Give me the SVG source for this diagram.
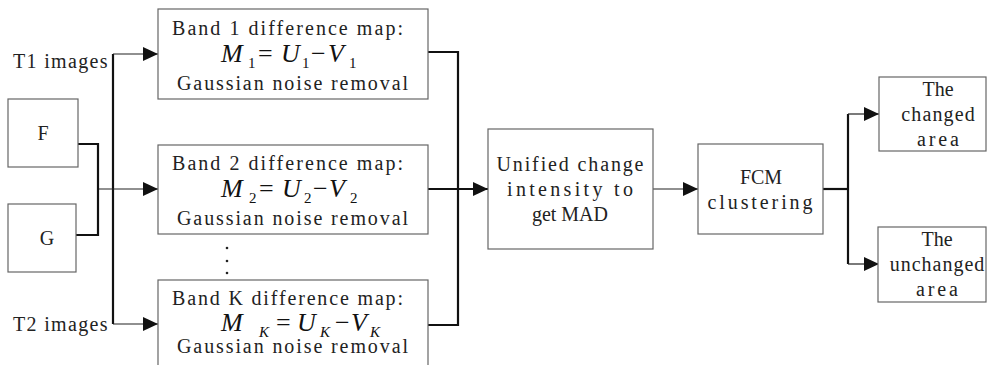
<svg xmlns="http://www.w3.org/2000/svg" width="987" height="365" viewBox="0 0 987 365">
<style>
.box{fill:#fff;stroke:#666;stroke-width:1.2}
.t{font-family:"Liberation Serif","Times New Roman",serif;font-size:20px;fill:#222}
.c{text-anchor:middle}
.f{font-family:"Liberation Serif","Times New Roman",serif;font-size:26px;fill:#111}
.i{font-style:italic}
.s{font-size:15px}
.thin{fill:none;stroke:#222;stroke-width:1.2}
.thick{fill:none;stroke:#111;stroke-width:2.2}
</style>
<defs>
<marker id="arr" markerUnits="userSpaceOnUse" markerWidth="15" markerHeight="14" refX="15" refY="7" orient="auto">
<path d="M0,0 L15,7 L0,14 z" fill="#111"/>
</marker>
</defs>
<rect width="987" height="365" fill="#fff"/>
<g id="connectors">
<path class="thick" d="M113,54 V324"/>
<path class="thin" d="M113,54 H158" marker-end="url(#arr)"/>
<path class="thin" d="M98,189 H158" marker-end="url(#arr)"/>
<path class="thin" d="M113,324 H158" marker-end="url(#arr)"/>
<path class="thick" d="M78,144 H98 V235 H76"/>
<path class="thick" d="M428,52 H458 V325 H428"/>
<path class="thick" d="M428,189 H488" marker-end="url(#arr)"/>
<path class="thin" d="M653,189 H698" marker-end="url(#arr)"/>
<path class="thick" d="M823,189 H848"/>
<path class="thick" d="M848,114 V264"/>
<path class="thin" d="M848,114 H879" marker-end="url(#arr)"/>
<path class="thin" d="M848,264 H879" marker-end="url(#arr)"/>
</g>
<g id="t1label"><text class="t" x="13" y="68" textLength="94.5" lengthAdjust="spacing">T1 images</text></g>
<g id="t2label"><text class="t" x="13" y="331" textLength="94.5" lengthAdjust="spacing">T2 images</text></g>
<g id="F">
<rect class="box" x="8" y="99" width="70" height="68"/>
<text class="t c" x="43" y="140">F</text>
</g>
<g id="G">
<rect class="box" x="8" y="204" width="68" height="68"/>
<text class="t c" x="47" y="245">G</text>
</g>
<g id="band1">
<rect class="box" x="158" y="9" width="270" height="90"/>
<text class="t" x="172" y="35" textLength="231" lengthAdjust="spacing">Band 1 difference map:</text>
<text class="f" y="62"><tspan class="i" x="221">M</tspan><tspan class="s" x="248" y="68">1</tspan><tspan x="258" y="62">=</tspan><tspan class="i" x="281">U</tspan><tspan class="s" x="302" y="68">1</tspan><tspan x="311" y="62">−</tspan><tspan class="i" x="328">V</tspan><tspan class="s" x="349" y="68">1</tspan></text>
<text class="t" x="177" y="90" textLength="231" lengthAdjust="spacing">Gaussian noise removal</text>
</g>
<g id="band2">
<rect class="box" x="158" y="145" width="270" height="89"/>
<text class="t" x="172" y="170" textLength="231" lengthAdjust="spacing">Band 2 difference map:</text>
<text class="f" y="197"><tspan class="i" x="221">M</tspan><tspan class="s" x="249" y="203">2</tspan><tspan x="259" y="197">=</tspan><tspan class="i" x="282">U</tspan><tspan class="s" x="304" y="203">2</tspan><tspan x="313" y="197">−</tspan><tspan class="i" x="329">V</tspan><tspan class="s" x="350" y="203">2</tspan></text>
<text class="t" x="177" y="225" textLength="231" lengthAdjust="spacing">Gaussian noise removal</text>
</g>
<g id="dots">
<circle cx="227" cy="248" r="1.3" fill="#222"/>
<circle cx="227" cy="261" r="1.3" fill="#222"/>
<circle cx="227" cy="273" r="1.3" fill="#222"/>
</g>
<g id="bandK">
<rect class="box" x="158" y="280" width="270" height="100"/>
<text class="t" x="172" y="305" textLength="231" lengthAdjust="spacing">Band K difference map:</text>
<text class="f" y="331"><tspan class="i" x="221">M</tspan><tspan class="s i" x="259" y="337">K</tspan><tspan x="276" y="331">=</tspan><tspan class="i" x="297">U</tspan><tspan class="s i" x="320" y="337">K</tspan><tspan x="335" y="331">−</tspan><tspan class="i" x="351">V</tspan><tspan class="s i" x="370" y="337">K</tspan></text>
<text class="t" x="177" y="353" textLength="231" lengthAdjust="spacing">Gaussian noise removal</text>
</g>
<g id="mad">
<rect class="box" x="488" y="129" width="165" height="120"/>
<text class="t c" x="570" y="171" textLength="147" lengthAdjust="spacing">Unified change</text>
<text class="t c" x="570" y="196" textLength="126" lengthAdjust="spacing">intensity to</text>
<text class="t c" x="570" y="221" textLength="76" lengthAdjust="spacing">get MAD</text>
</g>
<g id="fcm">
<rect class="box" x="698" y="144" width="125" height="90"/>
<text class="t c" x="761" y="184">FCM</text>
<text class="t c" x="760" y="209" textLength="105" lengthAdjust="spacing">clustering</text>
</g>
<g id="changed">
<rect class="box" x="879" y="77" width="107" height="74"/>
<text class="t c" x="938" y="96">The</text>
<text class="t c" x="938" y="121" textLength="73.5" lengthAdjust="spacing">changed</text>
<text class="t c" x="938" y="146" textLength="42" lengthAdjust="spacing">area</text>
</g>
<g id="unchanged">
<rect class="box" x="878" y="227" width="108" height="75"/>
<text class="t c" x="937" y="246">The</text>
<text class="t c" x="937" y="271" textLength="94.5" lengthAdjust="spacing">unchanged</text>
<text class="t c" x="937" y="296" textLength="42" lengthAdjust="spacing">area</text>
</g>
</svg>
